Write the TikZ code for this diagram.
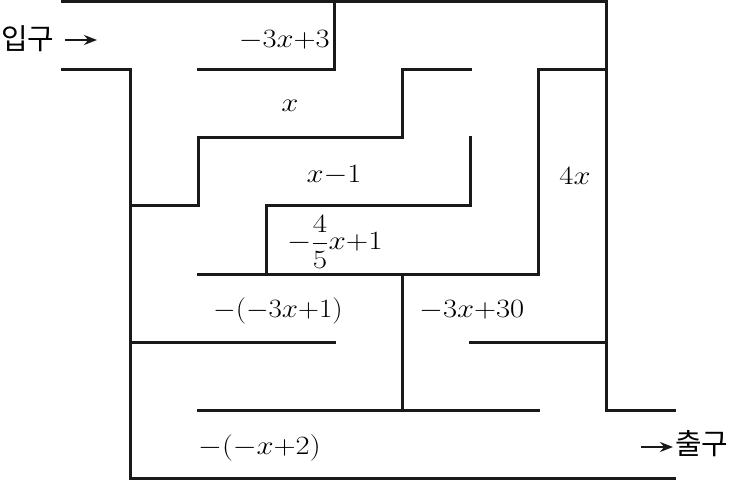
\RequirePackage{fix-cm}
\documentclass[tikz,border=0pt]{standalone}
\usepackage{amsmath}
\usepackage{graphicx}
\usepackage{fontspec}
\newfontfamily\kr{Noto Sans CJK KR}
\usetikzlibrary{arrows.meta}
\newcommand{\mlab}[2][1.16]{\scalebox{#1}[1]{$#2$}}
\tikzset{
  wall/.style={line width=3bp, line join=miter, line cap=rect, black!90},
  lab/.style={inner sep=0pt, font=\fontsize{26.5}{30}\selectfont},
  krlab/.style={inner sep=0pt, font=\kr\fontsize{29}{32}\selectfont},
  arr/.style={line width=2.4bp, -{Stealth[length=13bp,width=10bp]}, black!90},
}
\begin{document}
\begin{tikzpicture}[x=1bp,y=-1bp]
\useasboundingbox (0,0) rectangle (737,481);
% walls
\draw[wall] (62,2) -- (606,2) -- (606,410) -- (674,410);
\draw[wall] (198,70) -- (334,70) -- (334,2);
\draw[wall] (62,70) -- (130,70) -- (130,478) -- (674,478);
\draw[wall] (130,206) -- (198,206) -- (198,138) -- (402,138) -- (402,70) -- (470,70);
\draw[wall] (470,138) -- (470,206) -- (266,206) -- (266,274);
\draw[wall] (198,274) -- (538,274) -- (538,70) -- (606,70);
\draw[wall] (402,274) -- (402,410);
\draw[wall] (130,342) -- (334,342);
\draw[wall] (470,342) -- (606,342);
\draw[wall] (198,410) -- (538,410);
% labels
\node[lab, anchor=base east] (a) at (330,48) {\mlab{-3x{+}3}};
\node[lab, anchor=base] (b) at (290,112) {\mlab{x}};
\node[lab, anchor=base] (c) at (334,183) {\mlab{x{-}1}};
\node[lab, anchor=base west] (d) at (287,250) {\mlab[1.18]{-\dfrac{4}{5}x{+}1}};
\node[lab, anchor=base] (e) at (575,185) {\mlab{4x}};
\node[lab, anchor=base west] (f) at (213,317) {\mlab[1.1]{-(-3x{+}1)}};
\node[lab, anchor=base west] (g) at (419,317) {\mlab{-3x{+}30}};
\node[lab, anchor=base west] (h) at (198,454) {\mlab{-(-x{+}2)}};
% entrance / exit
\node[krlab, anchor=west] (in) at (1,39) {입구};
\coordinate (inA) at (65,40);
\coordinate (inB) at (97,40);
\draw[arr] (inA) -- (inB);
\node[krlab, anchor=west] (out) at (675,444) {출구};
\coordinate (outA) at (641,447);
\coordinate (outB) at (673,447);
\draw[arr] (outA) -- (outB);
\end{tikzpicture}
\end{document}
